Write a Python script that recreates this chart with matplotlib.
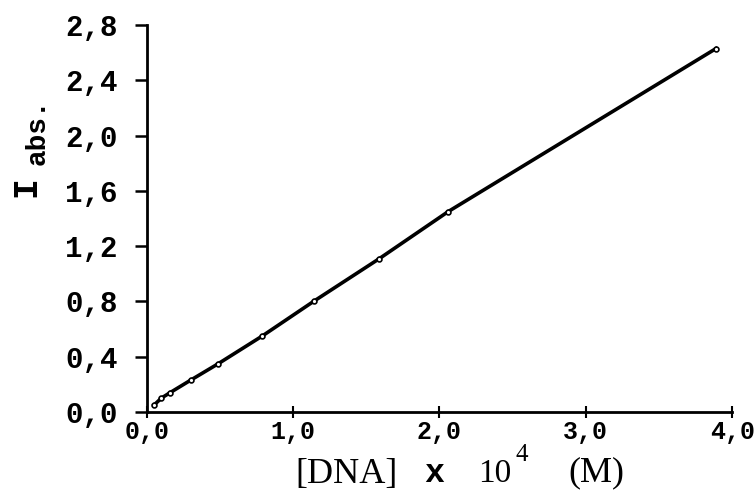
import matplotlib.pyplot as plt
import numpy as np

# values
dna = np.array([0.05, 0.10, 0.16, 0.30, 0.49, 0.79, 1.14, 1.59, 2.06, 3.89])
i_abs = np.array([0.05, 0.10, 0.14, 0.23, 0.35, 0.55, 0.80, 1.11, 1.45, 2.63])
xticks = [0.0, 1.0, 2.0, 3.0, 4.0]
yticks = [0.0, 0.4, 0.8, 1.2, 1.6, 2.0, 2.4, 2.8]

mono = 'Liberation Mono'
serif = 'Liberation Serif'

fig = plt.figure(figsize=(7.54, 4.91), dpi=100)
ax = fig.add_axes([0.1946, 0.161, 0.7764, 0.788])

ax.plot(dna, i_abs, color='black', linewidth=2.6, marker='o', markersize=3.5,
        markerfacecolor='white', markeredgecolor='black', markeredgewidth=1.2)

ax.set_xlim(0, 4.0)
ax.set_ylim(0, 2.8)
ax.set_xticks(xticks)
ax.set_yticks(yticks)
ax.set_xticklabels([f'{v:.1f}'.replace('.', ',') for v in xticks],
                   fontfamily=mono, fontweight='bold', fontsize=18)
ax.set_yticklabels([f'{v:.1f}'.replace('.', ',') for v in yticks],
                   fontfamily=mono, fontweight='bold', fontsize=21)
ax.tick_params(axis='y', direction='out', length=9, width=1.8, pad=12)
ax.tick_params(axis='x', direction='inout', length=8, width=1.5, pad=2)

for s in ['top', 'right']:
    ax.spines[s].set_visible(False)
for s in ['left', 'bottom']:
    ax.spines[s].set_linewidth(2)

# x label in pieces: [DNA] x 10^4 (M)
fig.text(0.392, 0.017, '[DNA]', fontfamily=serif, fontsize=26, va='baseline')
fig.text(0.562, 0.019, 'x', fontfamily=mono, fontweight='bold', fontsize=24,
         va='baseline')
fig.text(0.634, 0.019, '10', fontfamily=serif, fontsize=24, va='baseline')
fig.text(0.684, 0.061, '4', fontfamily=serif, fontsize=18, va='baseline')
fig.text(0.754, 0.019, '(M)', fontfamily=serif, fontsize=26, va='baseline')

# y label: "I" with lowered "abs."
fig.text(0.034, 0.621, 'I', fontfamily=mono, fontweight='bold', fontsize=25,
         rotation=90, ha='center', va='center')
fig.text(0.05, 0.732, 'abs.', fontfamily=mono, fontweight='bold', fontsize=20,
         rotation=90, ha='center', va='center')

fig.savefig('out.png', dpi=100)
